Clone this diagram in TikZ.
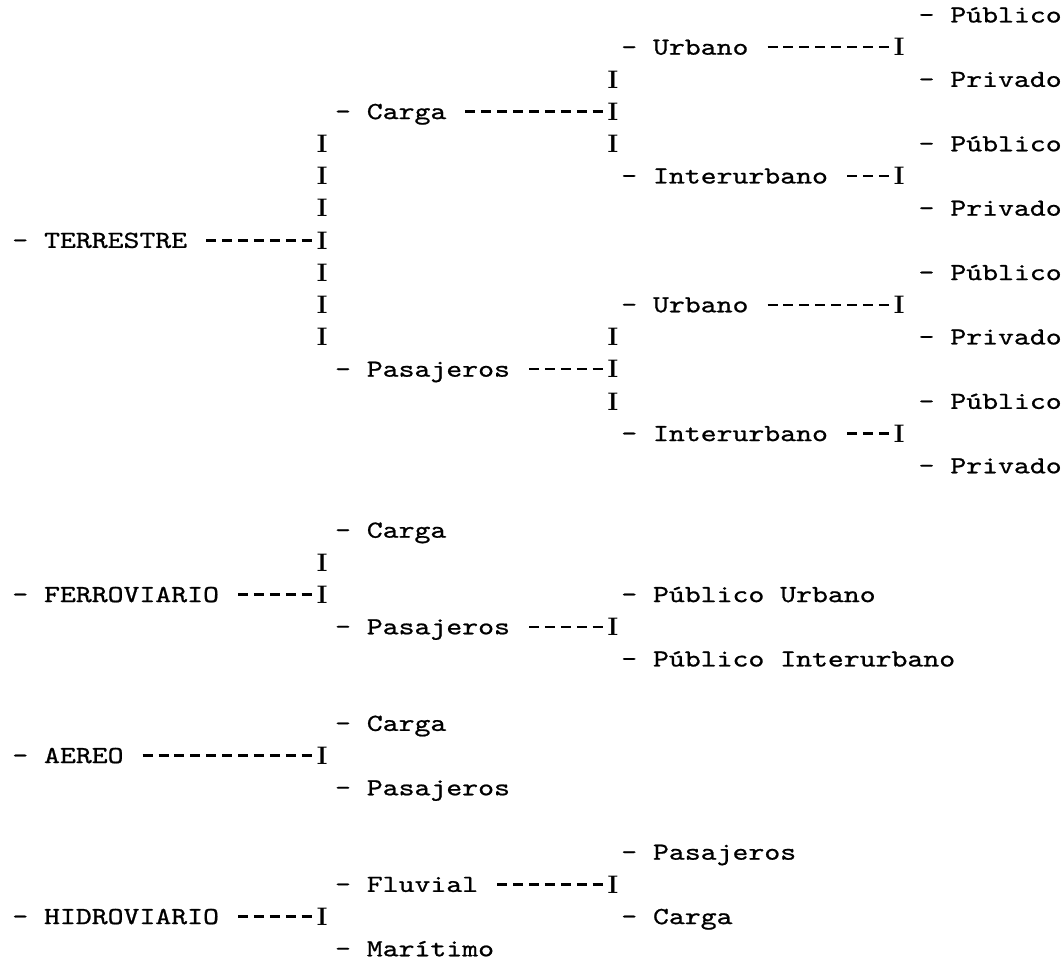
\documentclass[tikz,border=0pt]{standalone}
\usepackage{fontspec}
\usepackage{tikz}
\newfontfamily\typew{lmmono10-regular.otf}[FakeStretch=1.2345, FakeBold=0.8]

\begin{document}
\begin{tikzpicture}[x=11.925pt, y=-24.15pt,
    entry/.style={anchor=west, inner sep=0pt, text height=11.2pt, text depth=0pt, font=\typew\fontsize{18.4pt}{20pt}\selectfont},
    barI/.style={inner sep=0pt, text height=13pt, text depth=0pt, font=\rmfamily\bfseries\fontsize{19pt}{20pt}\selectfont},
    dashline/.style={line width=1.8pt, dash pattern=on 7.5pt off 4.425pt, shorten <=14.14pt}
]
\useasboundingbox (-0.755,-0.466) rectangle (66.1,29.53);

% TERRESTRE
\node (TERR) [entry] at (0,7) {- TERRESTRE};
\node (TERRbar) [barI] at (19.5,7) {I};
\foreach \r in {4,5,6,8,9,10} \node (TERRi\r) [barI] at (19.5,\r) {I};

\node (TCARGA) [entry] at (20.3,3) {- Carga};
\node (TCARGAbar) [barI] at (37.8,3) {I};
\foreach \r in {2,4} \node (TCARGAi\r) [barI] at (37.8,\r) {I};
\node (TPAS) [entry] at (20.3,11) {- Pasajeros};
\node (TPASbar) [barI] at (37.8,11) {I};
\foreach \r in {10,12} \node (TPASi\r) [barI] at (37.8,\r) {I};

\node (CURB) [entry] at (38.3,1) {- Urbano};
\node (CURBbar) [barI] at (55.8,1) {I};
\node (CINT) [entry] at (38.3,5) {- Interurbano};
\node (CINTbar) [barI] at (55.8,5) {I};
\node (PURB) [entry] at (38.3,9) {- Urbano};
\node (PURBbar) [barI] at (55.8,9) {I};
\node (PINT) [entry] at (38.3,13) {- Interurbano};
\node (PINTbar) [barI] at (55.8,13) {I};

\foreach \r/\t in {0/Público,2/Privado,4/Público,6/Privado,8/Público,10/Privado,12/Público,14/Privado}
    \node (R\r) [entry] at (57,\r) {- \t};

% FERROVIARIO
\node (FERRO) [entry] at (0,18) {- FERROVIARIO};
\node (FERRObar) [barI] at (19.5,18) {I};
\node (FERROi) [barI] at (19.5,17) {I};
\node (FCARGA) [entry] at (20.3,16) {- Carga};
\node (FPAS) [entry] at (20.3,19) {- Pasajeros};
\node (FPASbar) [barI] at (37.8,19) {I};
\node (FPURB) [entry] at (38.3,18) {- Público Urbano};
\node (FPINT) [entry] at (38.3,20) {- Público Interurbano};

% AEREO
\node (AEREO) [entry] at (0,23) {- AEREO};
\node (AEREObar) [barI] at (19.5,23) {I};
\node (ACARGA) [entry] at (20.3,22) {- Carga};
\node (APAS) [entry] at (20.3,24) {- Pasajeros};

% HIDROVIARIO
\node (HIDRO) [entry] at (0,28) {- HIDROVIARIO};
\node (HIDRObar) [barI] at (19.5,28) {I};
\node (HFLUV) [entry] at (20.3,27) {- Fluvial};
\node (HFLUVbar) [barI] at (37.8,27) {I};
\node (HMAR) [entry] at (20.3,29) {- Marítimo};
\node (HPAS) [entry] at (38.3,26) {- Pasajeros};
\node (HCARGA) [entry] at (38.3,28) {- Carga};

\draw [dashline] (TERR.east) -- (TERRbar.west);
\draw [dashline] (TCARGA.east) -- (TCARGAbar.west);
\draw [dashline] (TPAS.east) -- (TPASbar.west);
\draw [dashline] (CURB.east) -- (CURBbar.west);
\draw [dashline] (CINT.east) -- (CINTbar.west);
\draw [dashline] (PURB.east) -- (PURBbar.west);
\draw [dashline] (PINT.east) -- (PINTbar.west);
\draw [dashline] (FERRO.east) -- (FERRObar.west);
\draw [dashline] (FPAS.east) -- (FPASbar.west);
\draw [dashline] (AEREO.east) -- (AEREObar.west);
\draw [dashline] (HIDRO.east) -- (HIDRObar.west);
\draw [dashline] (HFLUV.east) -- (HFLUVbar.west);

\end{tikzpicture}
\end{document}
